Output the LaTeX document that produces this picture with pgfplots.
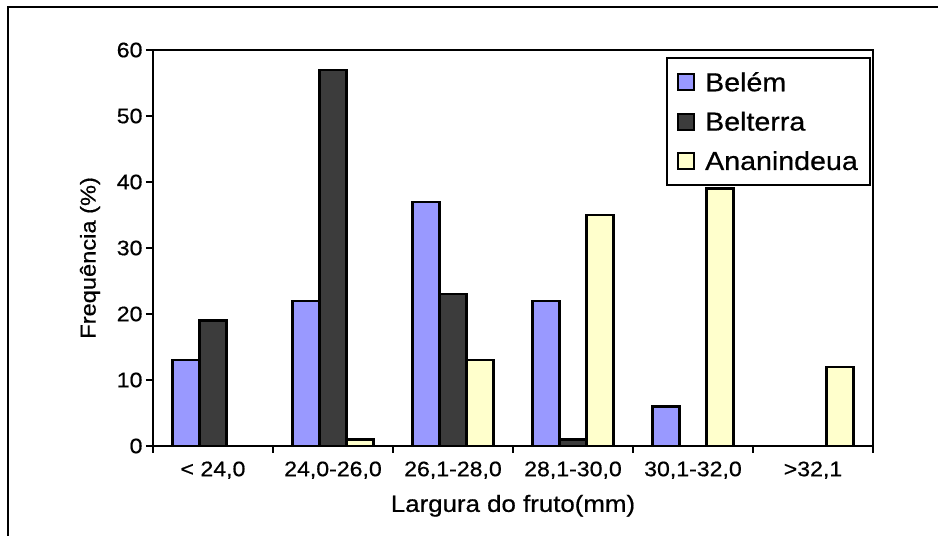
\documentclass[border=0pt]{standalone}
\usepackage{fontspec}
\setmainfont[FakeStretch=1.1, FakeBold=0.6]{Liberation Sans}
\usepackage{pgfplots}
\pgfplotsset{compat=1.18}
\definecolor{cBelem}{HTML}{9999FF}
\definecolor{cBelterra}{HTML}{3C3C3C}
\definecolor{cAnan}{HTML}{FFFFCC}
\begin{document}
\begin{tikzpicture}[x=1pt,y=1pt]
\useasboundingbox (0,0) rectangle (938,536);
\fill[white] (0,0) rectangle (938,536);
\draw[line width=2.2pt] (8,0) -- (8,529) -- (939,529);
\begin{axis}[
  at={(153pt,90pt)}, anchor=south west,
  scale only axis, width=720pt, height=396pt,
  ybar=0pt, bar width=27pt,
  xmin=0, xmax=6, ymin=0, ymax=60,
  xtick={0,1,2,3,4,5,6},
  xticklabels={{< 24,0},{24,0-26,0},{26,1-28,0},{28,1-30,0},{30,1-32,0},{>32,1}},
  x tick label as interval,
  ytick={0,10,20,30,40,50,60},
  xtick pos=bottom, ytick pos=left,
  tick align=outside, major tick length=7pt,
  tick style={line width=2pt, black},
  axis line style={line width=2pt},
  /pgf/number format/assume math mode=true,
  xticklabel style={font=\fontsize{21}{21}\selectfont, yshift=-5pt},
  yticklabel style={font=\fontsize{21}{21}\selectfont},
  xlabel={Largura do fruto(mm)},
  ylabel={Frequência (\%)},
  xlabel style={at={(axis description cs:0.5,-0.151)}, anchor=center, font=\fontsize{23.5}{23.5}\selectfont},
  ylabel style={at={(axis description cs:-0.0875,0.475)}, anchor=center, font=\fontsize{21.5}{21.5}\selectfont},
  every axis plot/.append style={draw=black, line width=2.4pt},
  legend style={at={(0.997,0.982)}, anchor=north east, draw=black, line width=2pt,
    font=\fontsize{26}{26}\selectfont, row sep=15pt, inner xsep=10pt, inner ysep=12pt},
  legend cell align=left,
  legend image code/.code={\draw[#1,line width=2pt] (0pt,-8pt) rectangle (16pt,8pt); \path (24pt,0pt);},
]
\addplot[fill=cBelem] coordinates {(0.5,13) (1.5,22) (2.5,37) (3.5,22) (4.5,6)};
\addplot[fill=cBelterra] coordinates {(0.5,19) (1.5,57) (2.5,23) (3.5,1)};
\addplot[fill=cAnan] coordinates {(1.5,1) (2.5,13) (3.5,35) (4.5,39) (5.5,12)};
\legend{Belém,Belterra,Ananindeua}
\end{axis}
\end{tikzpicture}
\end{document}
